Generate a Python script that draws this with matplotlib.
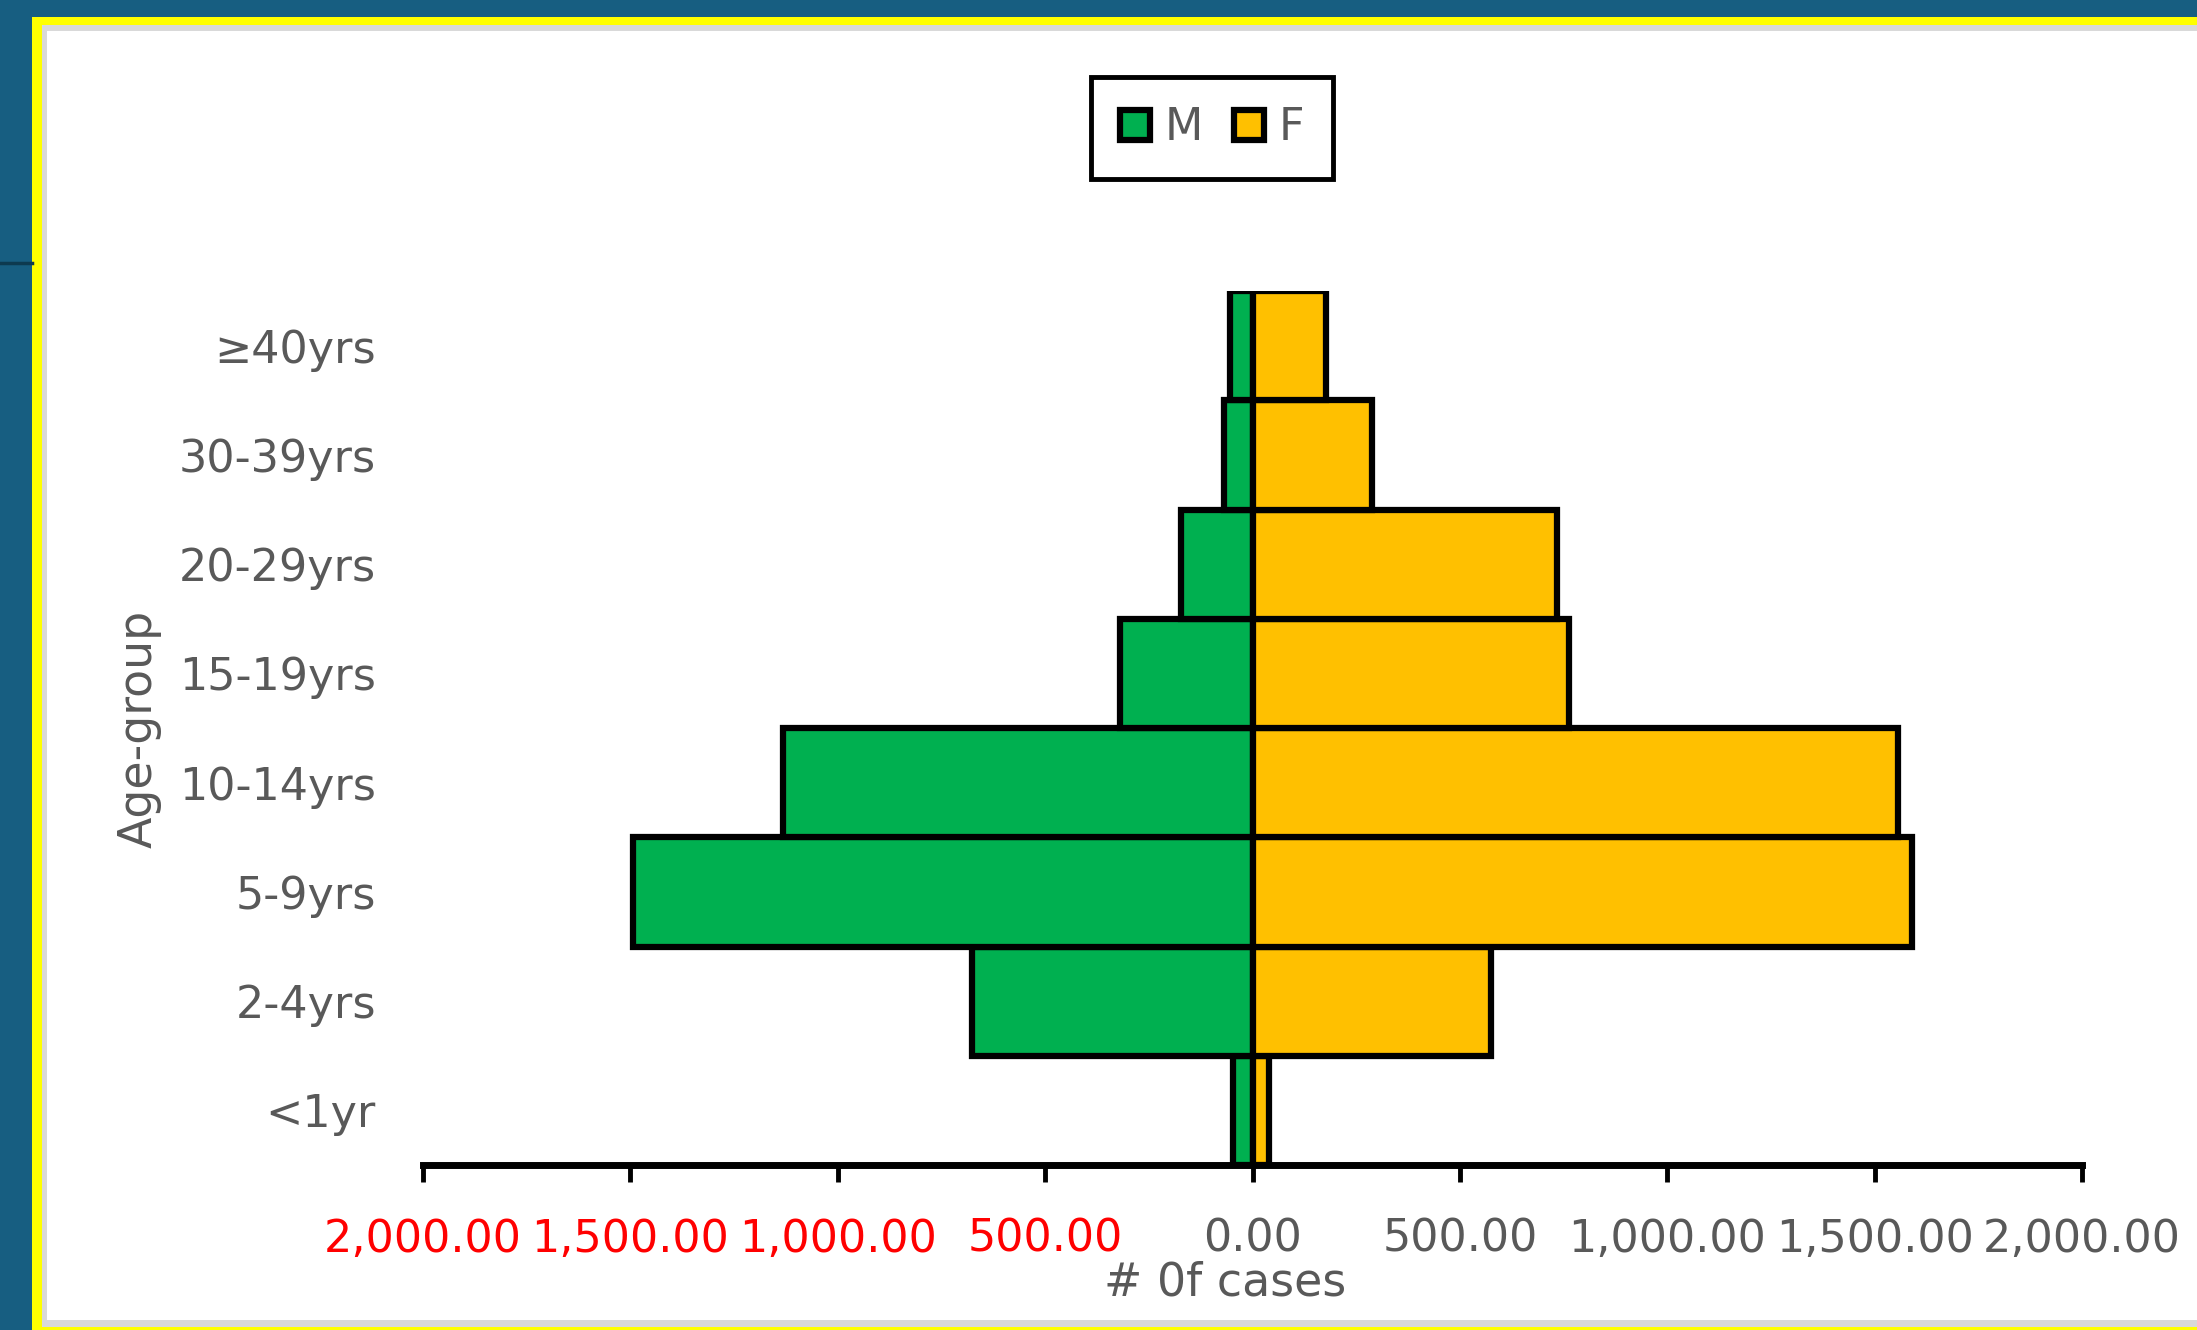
import numpy as np
import matplotlib.pyplot as plt
from matplotlib.patches import Rectangle
from matplotlib.lines import Line2D

kelompok = ["<1yr", "2-4yrs", "5-9yrs", "10-14yrs", "15-19yrs", "20-29yrs", "30-39yrs", "≥40yrs"]
kasus_M = np.array([47, 676, 1493, 1133, 319, 172, 69, 55])
kasus_F = np.array([39, 574, 1590, 1557, 762, 733, 289, 178])
nilai_tick = np.array([-2000, -1500, -1000, -500, 0, 500, 1000, 1500, 2000])

W, H = 2197, 1330
abu = '#595959'

fig = plt.figure(figsize=(W / 100, H / 100), dpi=100, facecolor='#175E81')

# bingkai slide: kuning, garis abu, isi putih
def kotak(x0, y0, x1, y1, warna, z):
    fig.add_artist(Rectangle((x0 / W, y0 / H), (x1 - x0) / W, (y1 - y0) / H,
                             transform=fig.transFigure, facecolor=warna,
                             edgecolor='none', zorder=z))

kotak(32, -20, W + 20, H - 17, '#FFFF00', -10)
kotak(42, 3, W + 20, H - 25, '#D9D9D9', -9)
kotak(47, 10, W + 20, H - 31, 'white', -8)
fig.add_artist(Line2D([0, 32 / W], [1 - 263 / H, 1 - 263 / H], transform=fig.transFigure,
                      color='#0D3A50', linewidth=2.5, zorder=-7))

ax = fig.add_axes([423 / W, 1 - 1165 / H, (2082 - 423) / W, (1165 - 291) / H])
ax.set_facecolor('none')

y = np.arange(len(kelompok))
ax.barh(y, -kasus_M, height=1.0, color='#00B050', edgecolor='black', linewidth=4.5, label='M')
ax.barh(y, kasus_F, height=1.0, color='#FFC000', edgecolor='black', linewidth=4.5, label='F')

ax.set_xlim(-2000, 2000)
ax.set_ylim(-0.5, len(kelompok) - 0.5)

ax.set_yticks(y)
ax.set_yticklabels(kelompok, fontsize=32, color=abu)
ax.tick_params(axis='y', length=0, pad=34)

ax.set_xticks(nilai_tick)
ax.set_xticklabels([f"{abs(v):,.2f}" for v in nilai_tick], fontsize=32)
for lbl, v in zip(ax.get_xticklabels(), nilai_tick):
    lbl.set_color('#FF0000' if v < 0 else abu)
ax.tick_params(axis='x', direction='out', length=12, width=3.5, color='black', pad=26)

for s in ['top', 'right', 'left']:
    ax.spines[s].set_visible(False)
ax.spines['bottom'].set_linewidth(5)
ax.spines['bottom'].set_color('black')

fig.text(139 / W, 1 - 729 / H, "Age-group", rotation=90, fontsize=33, color=abu,
         ha='center', va='center')
fig.text(1225 / W, 1 - 1296 / H, "# 0f cases", fontsize=33, color=abu,
         ha='center', va='baseline')

leg = fig.legend(loc='center', bbox_to_anchor=(1212 / W, 1 - 128 / H), ncol=2,
                 fontsize=32, frameon=True, fancybox=False, framealpha=1,
                 handlelength=0.68, handleheight=0.68, handletextpad=0.32,
                 columnspacing=0.7, borderpad=0.66, labelcolor=abu)
leg.get_frame().set_edgecolor('black')
leg.get_frame().set_linewidth(3.5)

plt.savefig('out.png', dpi=100, facecolor=fig.get_facecolor())
